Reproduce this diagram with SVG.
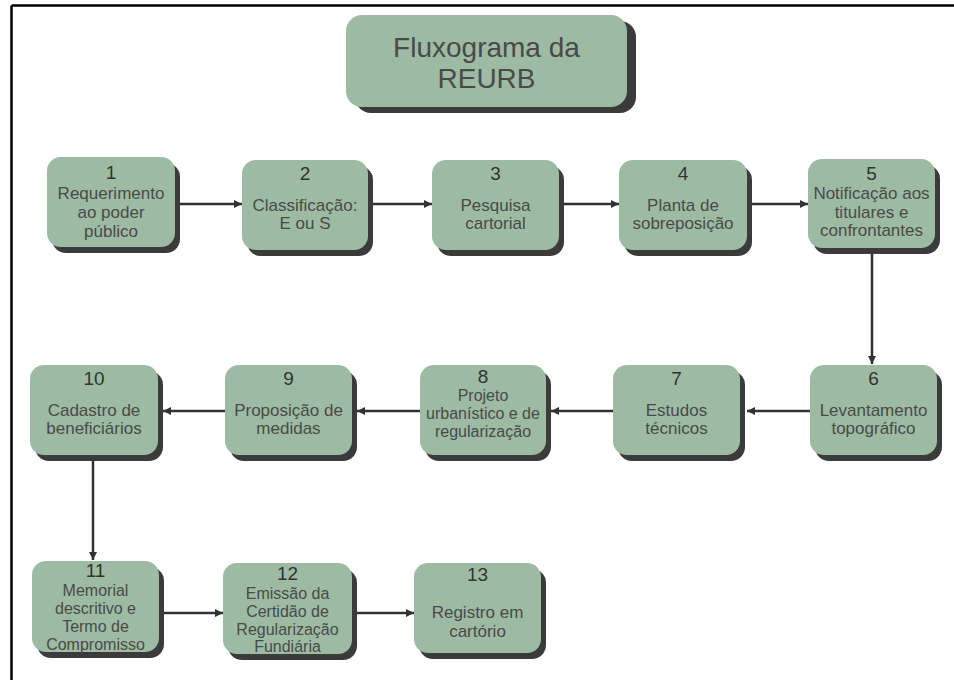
<svg xmlns="http://www.w3.org/2000/svg" width="954" height="680" viewBox="0 0 954 680">
<defs>
<style>
.box{fill:#9dbba3}
.sh{fill:#3b3b3b}
.num{font-family:"Liberation Sans",Arial,sans-serif;font-size:19px;fill:#333;text-anchor:middle}
.t{font-family:"Liberation Sans",Arial,sans-serif;font-size:17px;fill:#4a4a4a;text-anchor:middle}
.t2{font-family:"Liberation Sans",Arial,sans-serif;font-size:16px;fill:#4a4a4a;text-anchor:middle}
.title{font-family:"Liberation Sans",Arial,sans-serif;font-size:28px;fill:#4a4a4a;text-anchor:middle}
.c{stroke:#333;stroke-width:2.5;fill:none;marker-end:url(#ah)}
</style>
<marker id="ah" markerUnits="userSpaceOnUse" markerWidth="9" markerHeight="9" refX="8" refY="4.5" orient="auto">
<path d="M0,0.5 L8,4.5 L0,8.5 Z" fill="#333"/>
</marker>
</defs>
<rect width="954" height="680" fill="#fff"/>
<g id="frame" stroke="#000" stroke-width="2.5" fill="none">
<line x1="11.5" y1="5.5" x2="954" y2="5.5"/>
<line x1="11.5" y1="5.5" x2="11.5" y2="680"/>
</g>
<g id="title">
<rect class="sh" x="355" y="21" width="281" height="92" rx="16"/>
<rect class="box" x="346" y="15" width="281" height="92" rx="16"/>
<text class="title" x="486.5" y="57">Fluxograma da</text>
<text class="title" x="486.5" y="88">REURB</text>
</g>
<g id="connectors">
<line class="c" x1="175" y1="204" x2="242" y2="204"/>
<line class="c" x1="368" y1="204" x2="432" y2="204"/>
<line class="c" x1="559" y1="204" x2="619" y2="204"/>
<line class="c" x1="747" y1="204" x2="808" y2="204"/>
<line class="c" x1="872" y1="254" x2="872" y2="364"/>
<line class="c" x1="810" y1="411" x2="747" y2="411"/>
<line class="c" x1="613" y1="411" x2="551" y2="411"/>
<line class="c" x1="420" y1="411" x2="357" y2="411"/>
<line class="c" x1="225" y1="411" x2="163" y2="411"/>
<line class="c" x1="93" y1="461" x2="93" y2="560"/>
<line class="c" x1="159" y1="613" x2="223" y2="613"/>
<line class="c" x1="352" y1="613" x2="414" y2="613"/>
</g>
<g id="n1">
<rect class="sh" x="52" y="163" width="128" height="90" rx="14"/>
<rect class="box" x="47" y="157" width="128" height="90" rx="14"/>
<text class="num" x="111" y="179">1</text>
<text class="t" x="111" y="199">Requerimento</text>
<text class="t" x="111" y="218">ao poder</text>
<text class="t" x="111" y="237">público</text>
</g>
<g id="n2">
<rect class="sh" x="247" y="166" width="126" height="90" rx="14"/>
<rect class="box" x="242" y="160" width="126" height="90" rx="14"/>
<text class="num" x="305" y="180">2</text>
<text class="t" x="305" y="211">Classificação:</text>
<text class="t" x="305" y="229">E ou S</text>
</g>
<g id="n3">
<rect class="sh" x="437" y="166" width="127" height="90" rx="14"/>
<rect class="box" x="432" y="160" width="127" height="90" rx="14"/>
<text class="num" x="495.5" y="180">3</text>
<text class="t" x="495.5" y="211">Pesquisa</text>
<text class="t" x="495.5" y="229">cartorial</text>
</g>
<g id="n4">
<rect class="sh" x="624" y="166" width="128" height="90" rx="14"/>
<rect class="box" x="619" y="160" width="128" height="90" rx="14"/>
<text class="num" x="683" y="180">4</text>
<text class="t" x="683" y="211">Planta de</text>
<text class="t" x="683" y="229">sobreposição</text>
</g>
<g id="n5">
<rect class="sh" x="813" y="165" width="127" height="89" rx="14"/>
<rect class="box" x="808" y="159" width="127" height="89" rx="14"/>
<text class="num" x="871.5" y="180">5</text>
<text class="t" x="871.5" y="199">Notificação aos</text>
<text class="t" x="871.5" y="218">titulares e</text>
<text class="t" x="871.5" y="236">confrontantes</text>
</g>
<g id="n6">
<rect class="sh" x="815" y="371" width="127" height="90" rx="14"/>
<rect class="box" x="810" y="365" width="127" height="90" rx="14"/>
<text class="num" x="873.5" y="385">6</text>
<text class="t" x="873.5" y="416">Levantamento</text>
<text class="t" x="873.5" y="434">topográfico</text>
</g>
<g id="n7">
<rect class="sh" x="618" y="371" width="127" height="90" rx="14"/>
<rect class="box" x="613" y="365" width="127" height="90" rx="14"/>
<text class="num" x="676.5" y="385">7</text>
<text class="t" x="676.5" y="416">Estudos</text>
<text class="t" x="676.5" y="434">técnicos</text>
</g>
<g id="n8">
<rect class="sh" x="425" y="371" width="126" height="90" rx="14"/>
<rect class="box" x="420" y="365" width="126" height="90" rx="14"/>
<text class="num" x="483" y="383">8</text>
<text class="t2" x="483" y="401">Projeto</text>
<text class="t2" x="483" y="419">urbanístico e de</text>
<text class="t2" x="483" y="437">regularização</text>
</g>
<g id="n9">
<rect class="sh" x="230" y="371" width="127" height="90" rx="14"/>
<rect class="box" x="225" y="365" width="127" height="90" rx="14"/>
<text class="num" x="288.5" y="385">9</text>
<text class="t" x="288.5" y="416">Proposição de</text>
<text class="t" x="288.5" y="434">medidas</text>
</g>
<g id="n10">
<rect class="sh" x="35" y="371" width="128" height="90" rx="14"/>
<rect class="box" x="30" y="365" width="128" height="90" rx="14"/>
<text class="num" x="94" y="385">10</text>
<text class="t" x="94" y="416">Cadastro de</text>
<text class="t" x="94" y="434">beneficiários</text>
</g>
<g id="n11">
<rect class="sh" x="37" y="567" width="127" height="91" rx="14"/>
<rect class="box" x="32" y="561" width="127" height="91" rx="14"/>
<text class="num" x="95.5" y="577">11</text>
<text class="t2" x="95.5" y="596">Memorial</text>
<text class="t2" x="95.5" y="614">descritivo e</text>
<text class="t2" x="95.5" y="632">Termo de</text>
<text class="t2" x="95.5" y="650">Compromisso</text>
</g>
<g id="n12">
<rect class="sh" x="228" y="569" width="129" height="91" rx="14"/>
<rect class="box" x="223" y="563" width="129" height="91" rx="14"/>
<text class="num" x="287.5" y="580">12</text>
<text class="t2" x="287.5" y="599">Emissão da</text>
<text class="t2" x="287.5" y="617">Certidão de</text>
<text class="t2" x="287.5" y="635">Regularização</text>
<text class="t2" x="287.5" y="652">Fundiária</text>
</g>
<g id="n13">
<rect class="sh" x="419" y="569" width="127" height="90" rx="14"/>
<rect class="box" x="414" y="563" width="127" height="90" rx="14"/>
<text class="num" x="477.5" y="581">13</text>
<text class="t" x="477.5" y="618">Registro em</text>
<text class="t" x="477.5" y="637">cartório</text>
</g>
</svg>
